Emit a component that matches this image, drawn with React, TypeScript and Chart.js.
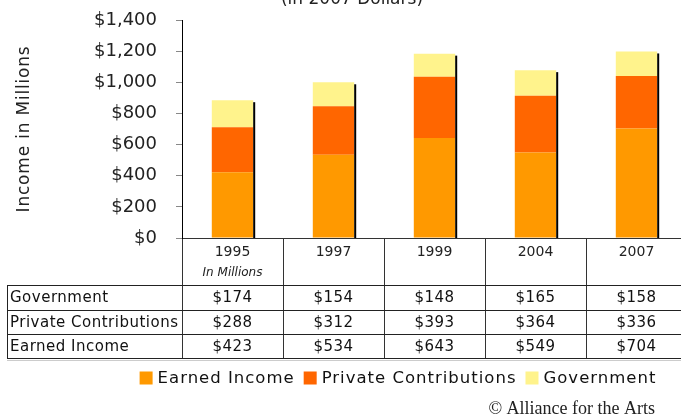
import { useEffect, useRef } from 'react';
import { Chart, registerables } from 'chart.js';

Chart.register(...registerables);

const years = ['1995', '1997', '1999', '2004', '2007'];
const earnedIncome = [423, 534, 643, 549, 704];
const privateContributions = [288, 312, 393, 364, 336];
const government = [174, 154, 148, 165, 158];
const seriesNames = ['Earned Income', 'Private Contributions', 'Government'];
const seriesColors = ['#FF9900', '#FF6600', '#FFF38C'];
const yMax = 1400;
const yStep = 200;
const titleText = '(in 2007 Dollars)';
const yTitleText = 'Income in Millions';
const unitNote = 'In Millions';
const creditText = '\u00A9 Alliance for the Arts';

const FONT = "'DejaVu Sans', Verdana, sans-serif";

const fmt = (v: number) => '$' + v.toLocaleString('en-US');

const overlayPlugin = {
  id: 'overlay',
  afterDatasetsDraw(chart: any) {
    const ctx = chart.ctx;
    const meta = chart.getDatasetMeta(2);
    const base = chart.scales.y.getPixelForValue(0);
    ctx.save();
    ctx.fillStyle = '#000';
    meta.data.forEach((el: any) => {
      const p = el.getProps(['x', 'y', 'width'], true);
      ctx.fillRect(p.x + p.width / 2, p.y + 2, 2, base - p.y - 2);
    });
    ctx.restore();
  },
  afterDraw(chart: any) {
    const ctx = chart.ctx;
    const xs = chart.scales.x;
    const area = chart.chartArea;
    ctx.save();
    // title (cut at top)
    ctx.fillStyle = '#222';
    ctx.font = `17px ${FONT}`;
    ctx.textAlign = 'center';
    ctx.textBaseline = 'alphabetic';
    ctx.fillText(titleText, 352, 4);
    // y title
    ctx.save();
    ctx.translate(25, 129);
    ctx.rotate(-Math.PI / 2);
    ctx.textBaseline = 'middle';
    ctx.font = `17px ${FONT}`;
    (ctx as any).letterSpacing = '0.8px';
    ctx.fillText(yTitleText, 0, 0);
    ctx.restore();
    // unit note
    ctx.font = `italic 12px ${FONT}`;
    ctx.textAlign = 'center';
    ctx.textBaseline = 'middle';
    ctx.fillStyle = '#222';
    ctx.fillText(unitNote, xs.getPixelForValue(0), 273);
    // table lines
    const rowLines = [285, 309.5, 334, 358];
    ctx.strokeStyle = '#222';
    ctx.lineWidth = 1;
    rowLines.forEach((y) => {
      ctx.beginPath();
      ctx.moveTo(7, Math.round(y) + 0.5);
      ctx.lineTo(area.right, Math.round(y) + 0.5);
      ctx.stroke();
    });
    ctx.strokeStyle = '#ccc';
    ctx.beginPath();
    ctx.moveTo(7, 360.5);
    ctx.lineTo(area.right, 360.5);
    ctx.stroke();
    ctx.strokeStyle = '#222';
    ctx.beginPath();
    ctx.moveTo(7.5, 285);
    ctx.lineTo(7.5, 359);
    ctx.stroke();
    // table rows
    const rows = [
      { name: seriesNames[2], values: government },
      { name: seriesNames[1], values: privateContributions },
      { name: seriesNames[0], values: earnedIncome },
    ];
    ctx.font = `15px ${FONT}`;
    (ctx as any).letterSpacing = '0.5px';
    ctx.fillStyle = '#111';
    ctx.textBaseline = 'middle';
    rows.forEach((r, i) => {
      const yc = (rowLines[i] + rowLines[i + 1]) / 2 + 1;
      ctx.textAlign = 'left';
      ctx.fillText(r.name, 10, yc);
      ctx.textAlign = 'center';
      r.values.forEach((v, j) => {
        ctx.fillText(fmt(v), xs.getPixelForValue(j), yc);
      });
    });
    // legend
    ctx.font = `16.5px ${FONT}`;
    (ctx as any).letterSpacing = '1px';
    ctx.textAlign = 'left';
    ctx.textBaseline = 'middle';
    const box = 13;
    const gapBox = 5;
    const gapItem = 9;
    const widths = seriesNames.map((n) => ctx.measureText(n).width);
    const total = widths.reduce((a, w) => a + box + gapBox + w, 0) + gapItem * (seriesNames.length - 1);
    let lx = 398 - total / 2;
    const ly = 378;
    seriesNames.forEach((n, i) => {
      ctx.fillStyle = seriesColors[i];
      ctx.fillRect(lx, ly - 6.5, box, box);
      lx += box + gapBox;
      ctx.fillStyle = '#111';
      ctx.fillText(n, lx, ly + 1);
      lx += widths[i] + gapItem;
    });
    // credit
    (ctx as any).letterSpacing = '0px';
    ctx.font = `18px 'Liberation Serif', 'Times New Roman', serif`;
    ctx.textAlign = 'right';
    ctx.textBaseline = 'alphabetic';
    ctx.fillStyle = '#222';
    ctx.fillText(creditText, 655, 414);
    ctx.restore();
  },
};

export default function App() {
  const ref = useRef<HTMLCanvasElement>(null);
  useEffect(() => {
    if (!ref.current) return;
    const chart = new Chart(ref.current, {
      type: 'bar',
      data: {
        labels: years,
        datasets: [
          { label: seriesNames[0], data: earnedIncome, backgroundColor: seriesColors[0] },
          { label: seriesNames[1], data: privateContributions, backgroundColor: seriesColors[1] },
          { label: seriesNames[2], data: government, backgroundColor: seriesColors[2] },
        ],
      },
      options: {
        responsive: false,
        animation: false,
        devicePixelRatio: 1,
        layout: { padding: { top: 20, right: 13, left: 0, bottom: 0 } },
        datasets: { bar: { barPercentage: 1, categoryPercentage: 0.41 } },
        plugins: { legend: { display: false }, tooltip: { enabled: false }, title: { display: false } },
        scales: {
          x: {
            stacked: true,
            offset: true,
            afterFit: (s: any) => { s.height = 181; s.paddingLeft = 0; s.paddingRight = 0; s.paddingTop = 0; s.paddingBottom = 0; },
            grid: {
              offset: true,
              drawOnChartArea: false,
              drawTicks: true,
              tickLength: 120,
              tickColor: '#333',
              color: '#333',
            },
            border: { display: true, color: '#333', width: 1 },
            ticks: {
              padding: -114,
              maxRotation: 0,
              autoSkip: false,
              color: '#222',
              font: { family: FONT, size: 14 },
            },
          },
          y: {
            stacked: true,
            min: 0,
            max: yMax,
            afterFit: (s: any) => { s.width = 182; s.paddingTop = 0; s.paddingBottom = 0; s.paddingLeft = 0; s.paddingRight = 0; },
            grid: { drawOnChartArea: false, drawTicks: true, tickLength: 6, tickColor: '#888' },
            border: { display: true, color: '#000', width: 1 },
            ticks: {
              stepSize: yStep,
              padding: 19,
              color: '#222',
              font: { family: FONT, size: 18 },
              callback: (v: any) => fmt(Number(v)),
            },
          },
        },
      },
      plugins: [overlayPlugin],
    });
    return () => chart.destroy();
  }, []);
  return (
    <div style={{ position: 'fixed', left: 0, top: 0, width: 681, height: 419, overflow: 'hidden', background: '#fff' }}>
      <canvas ref={ref} width={700} height={419} style={{ display: 'block', width: 700, height: 419 }} />
    </div>
  );
}
